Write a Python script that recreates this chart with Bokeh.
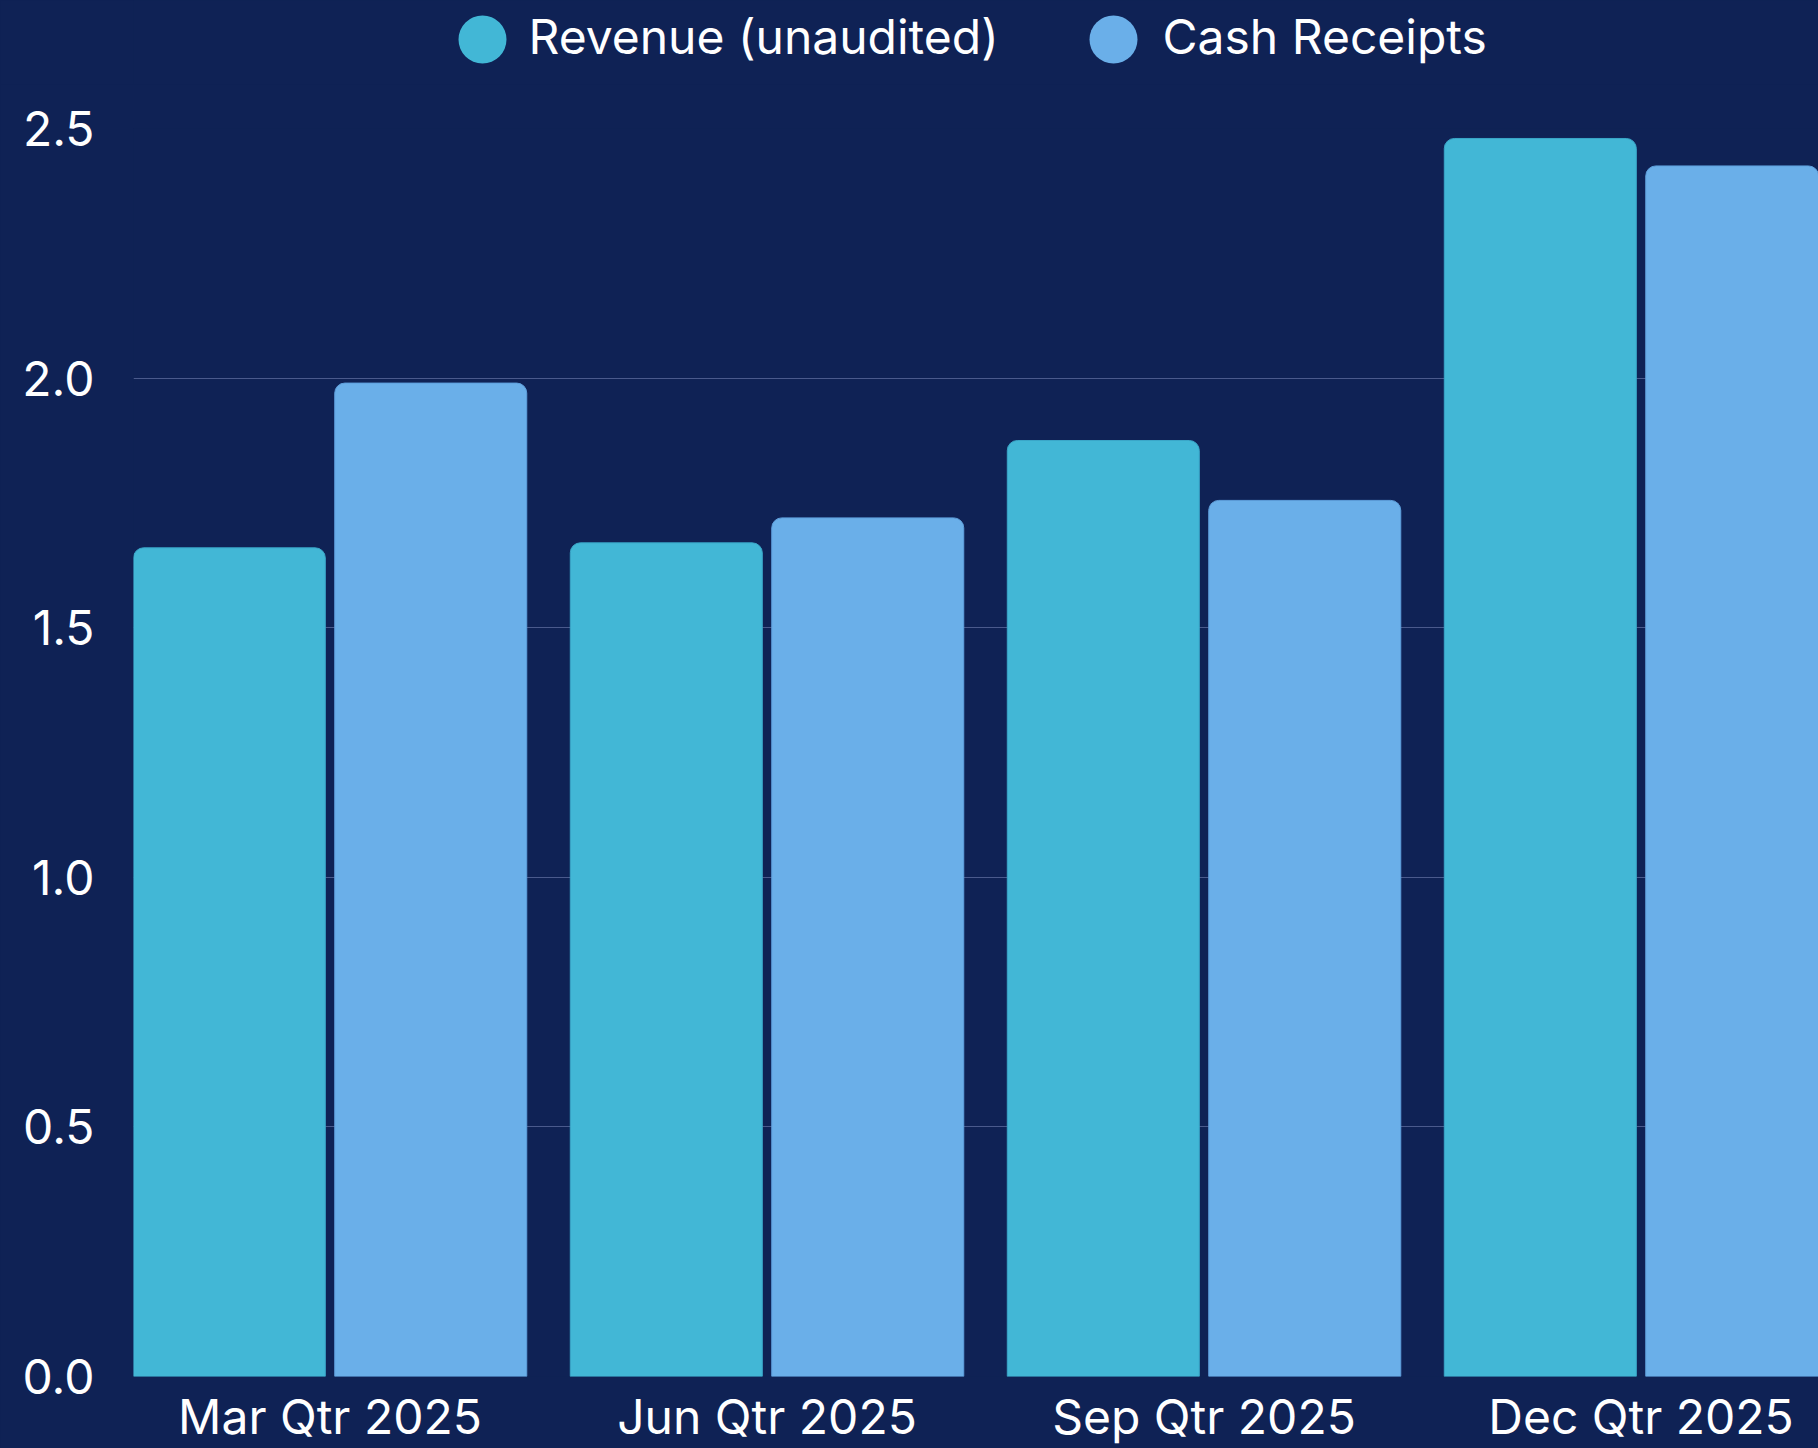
from bokeh.plotting import figure
from bokeh.layouts import column
from bokeh.models import Range1d, FixedTicker, ColumnDataSource, NumeralTickFormatter
from bokeh.transform import dodge
from bokeh.core.properties import value
from bokeh.embed import file_html
from bokeh.resources import INLINE

# ---- data ----
categories = ["Mar Qtr 2025", "Jun Qtr 2025", "Sep Qtr 2025", "Dec Qtr 2025"]
revenue = [1.66, 1.67, 1.875, 2.48]
cash_receipts = [1.99, 1.72, 1.755, 2.425]
series_names = ["Revenue (unaudited)", "Cash Receipts"]
y_ticks = [0.0, 0.5, 1.0, 1.5, 2.0, 2.5]

# ---- style ----
BG = "#0F2255"
REV = "#42B7D6"
CASH = "#6AAFE9"
GRID = "#4A5A8C"
TXT = "#FFFFFF"
FONT = "Inter"
FS = "48px"

W = 1818
H_LEG = 84
LEFT = 133

# ---- legend strip (its frame is aligned with the chart's frame by the column) ----
leg = figure(width=W, height=H_LEG, x_range=Range1d(LEFT, W), y_range=Range1d(0, H_LEG),
             x_axis_location=None, y_axis_location=None,
             output_backend="svg", toolbar_location=None,
             min_border=0, min_border_left=LEFT,
             background_fill_color=BG, border_fill_color=BG,
             outline_line_color=None)
leg.grid.visible = False
leg_src = ColumnDataSource(dict(cx=[482, 1113], cy=[H_LEG - 39, H_LEG - 39],
                                ty=[H_LEG - 36, H_LEG - 36], color=[REV, CASH],
                                tx=[528, 1162], label=series_names))
leg.scatter(x="cx", y="cy", size=48, marker="circle", fill_color="color",
            line_color=None, source=leg_src)
leg.text(x="tx", y="ty", text="label", text_color=TXT, text_font=value(FONT),
         text_font_size=FS, text_baseline="middle", text_align="left", source=leg_src)

# ---- main chart ----
x_pos = list(range(len(categories)))
src = ColumnDataSource(dict(x=x_pos, revenue=revenue, cash=cash_receipts))

p = figure(width=W, height=1448 - H_LEG,
           x_range=Range1d(-0.4497, 3.4061), y_range=Range1d(0, 2.5),
           output_backend="svg", toolbar_location=None,
           min_border_left=LEFT, min_border_right=0, min_border_top=44, min_border_bottom=72,
           background_fill_color=BG, border_fill_color=BG, outline_line_color=None)

p.vbar(x=dodge("x", -0.2305, range=p.x_range), top="revenue", width=0.4394, source=src,
       fill_color=REV, line_color="#3AA6C8", line_width=1, border_radius=(10, 10, 0, 0))
p.vbar(x=dodge("x", 0.2305, range=p.x_range), top="cash", width=0.4394, source=src,
       fill_color=CASH, line_color="#5E9FDC", line_width=1, border_radius=(10, 10, 0, 0))

p.xaxis.ticker = FixedTicker(ticks=x_pos)
p.xaxis.major_label_overrides = {i: c for i, c in zip(x_pos, categories)}
p.yaxis.ticker = FixedTicker(ticks=y_ticks)
p.yaxis.formatter = NumeralTickFormatter(format="0.0")

for ax in (p.xaxis, p.yaxis):
    ax.axis_line_color = None
    ax.major_tick_line_color = None
    ax.minor_tick_line_color = None
    ax.major_tick_out = 0
    ax.major_tick_in = 0
    ax.major_label_text_color = TXT
    ax.major_label_text_font = FONT
    ax.major_label_text_font_size = FS
p.xaxis.major_label_standoff = 10
p.yaxis.major_label_standoff = 39

p.xgrid.grid_line_color = None
p.ygrid.grid_line_color = GRID
p.ygrid.grid_line_width = 1

layout = column(leg, p, spacing=0)
layout.background = BG

open("out.html", "w").write(file_html(layout, INLINE))
